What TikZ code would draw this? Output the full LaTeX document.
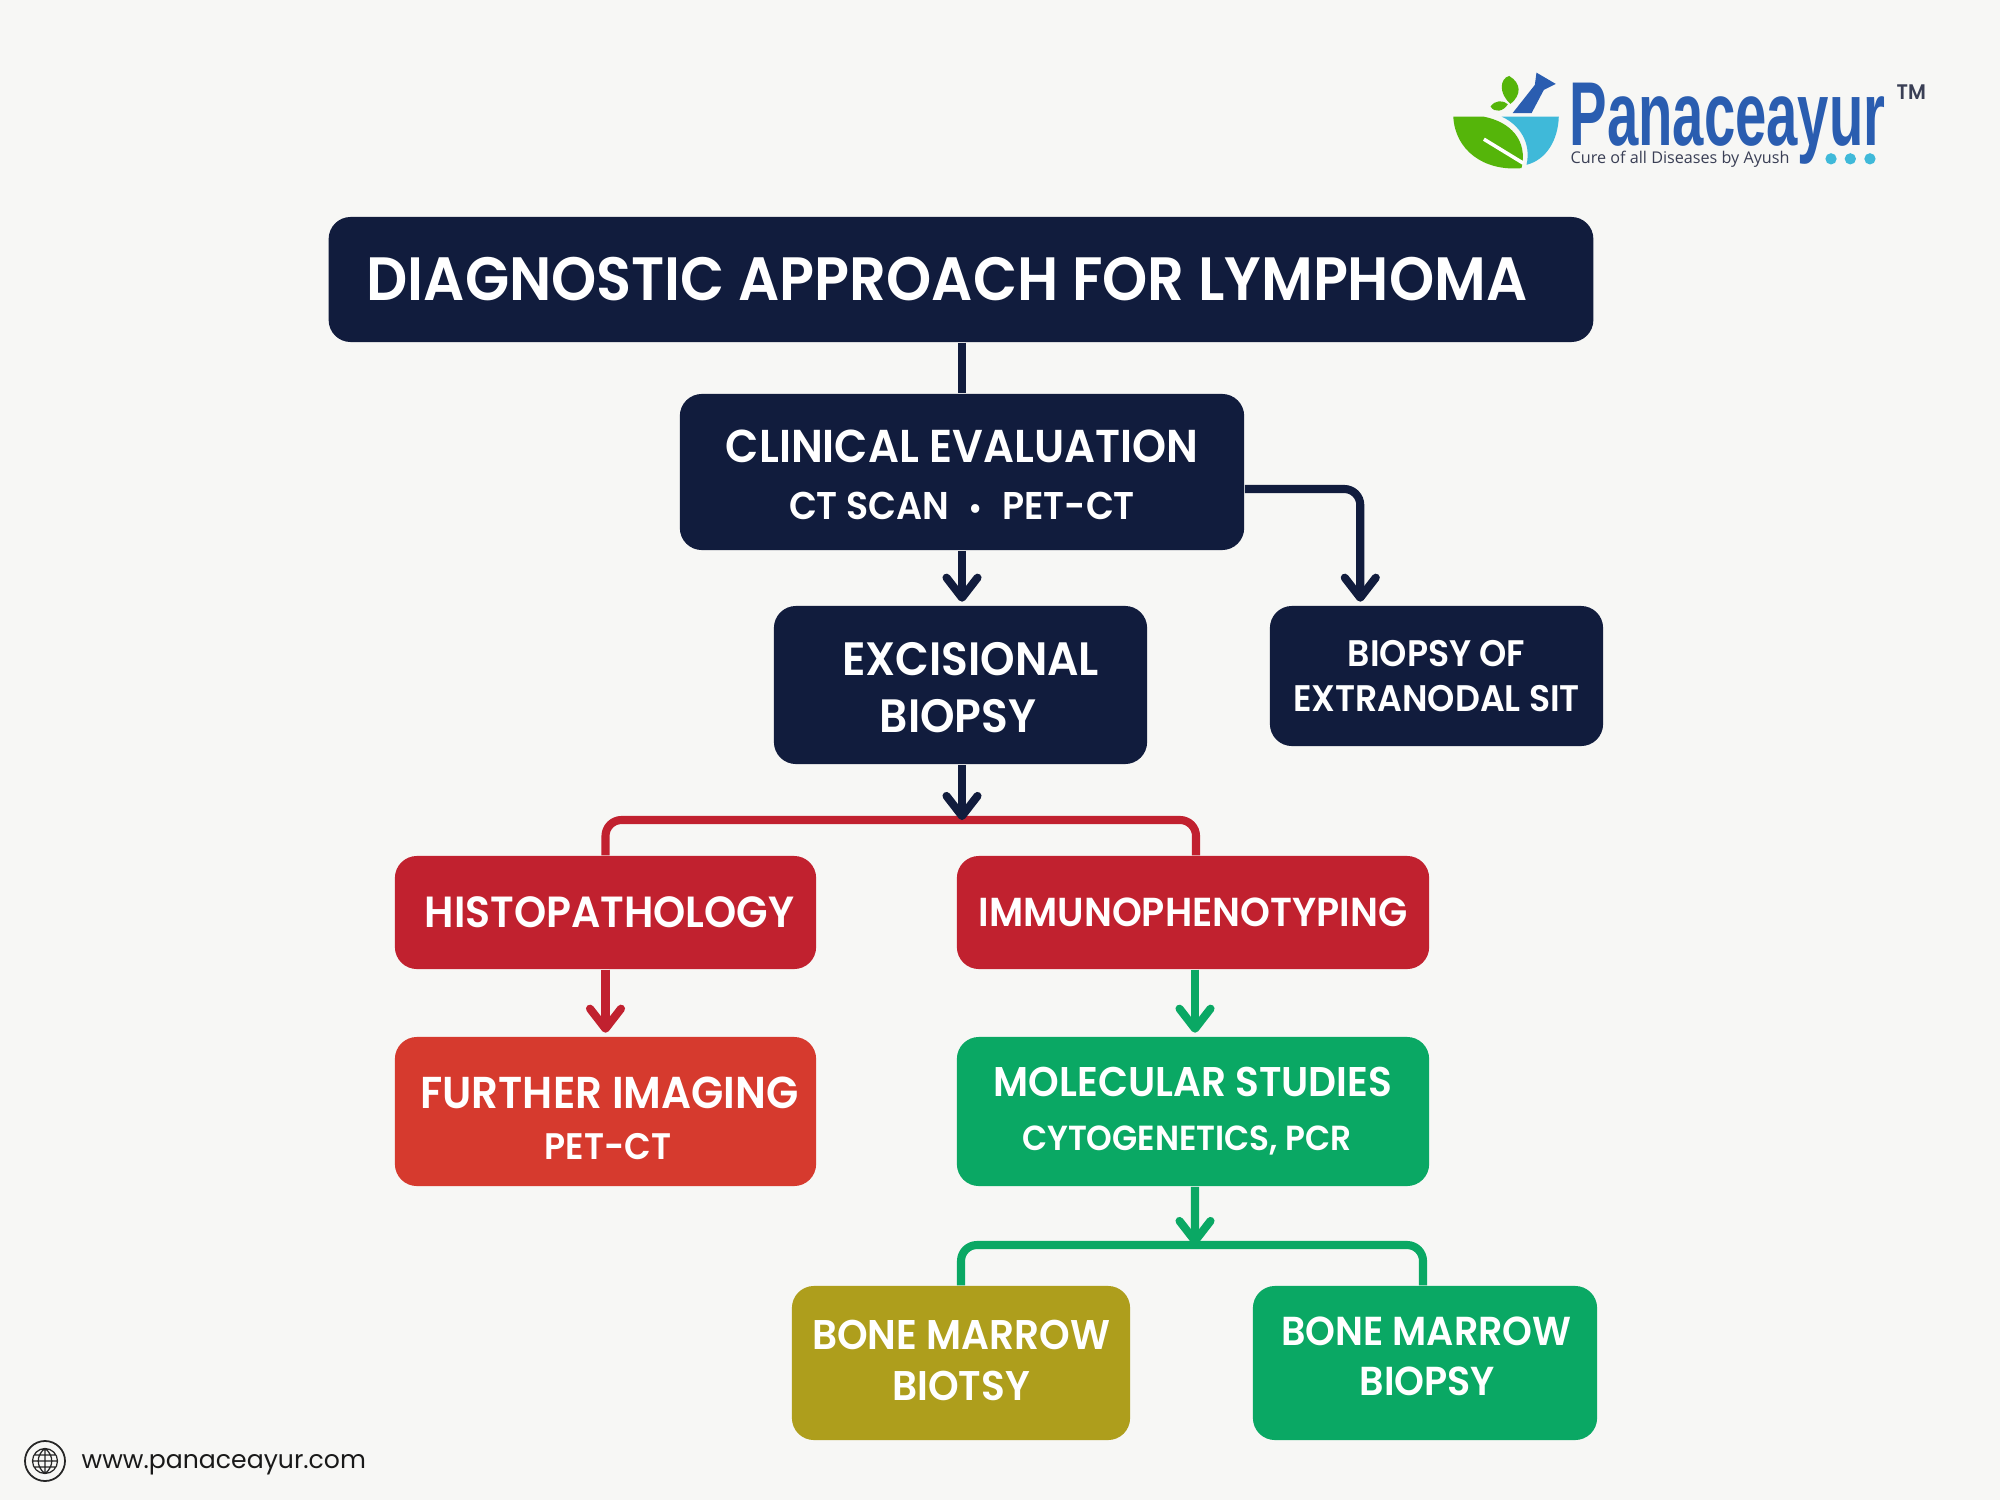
\documentclass[tikz,border=0pt]{standalone}
\usepackage{fontspec}
\setmainfont{Poppins}
\newfontfamily\boxfont[FakeStretch=0.94]{Poppins SemiBold}
\newfontfamily\logofont[FakeStretch=0.62]{Liberation Sans}
\newfontfamily\tagfont{Open Sans}
\usepackage{xcolor}
\usetikzlibrary{arrows.meta}
\definecolor{PageBg}{HTML}{F7F7F5}
\definecolor{NavyBox}{HTML}{111C3D}
\definecolor{RedBox}{HTML}{C1212F}
\definecolor{OrangeBox}{HTML}{D63A2E}
\definecolor{GreenBox}{HTML}{0AA864}
\definecolor{OliveBox}{HTML}{AE9E1C}
\definecolor{LogoBlue}{HTML}{2A5DB0}
\definecolor{LogoCyan}{HTML}{3FB9D9}
\definecolor{LogoGreen}{HTML}{55B50A}
\definecolor{LogoGrey}{HTML}{3A3F55}

\begin{document}
\begin{tikzpicture}[
  x=0.01cm,y=-0.01cm,
  flowbox/.style={rounded corners=2.2mm,text=white,align=center,inner sep=0pt},
  link/.style={line width=2.3pt,rounded corners=1.6mm},
  linktip/.style={-{Straight Barb[length=2mm,width=3.1mm,round,line width=2.3pt]}},
  ]
  \tikzset{%
    navybox/.style={flowbox,fill=NavyBox},
    redbox/.style={flowbox,fill=RedBox},
    greenbox/.style={flowbox,fill=GreenBox},
  }
  \useasboundingbox[fill=PageBg] (0,0) rectangle (2000,1500);
  %Nodes
  \node[navybox,minimum width=12.64cm,minimum height=1.25cm,font=\boxfont\fontsize{17.4}{21}\selectfont](title) at (961,279.5){\hspace*{-0.28cm}DIAGNOSTIC APPROACH FOR LYMPHOMA};
  \node[navybox,minimum width=5.64cm,minimum height=1.56cm,font=\boxfont\fontsize{13.1}{16}\selectfont](clinical) at (962,472){%
    \rule{0pt}{0.38cm}CLINICAL EVALUATION\\
    {\fontsize{11}{14}\selectfont CT SCAN\enspace{\fontsize{9}{9}\selectfont •}\enspace PET-CT}};
  \node[navybox,minimum width=3.73cm,minimum height=1.58cm,font=\boxfont\fontsize{13.3}{16.1}\selectfont](excisional) at (960.5,685){\rule{0pt}{0.38cm}\hspace*{0.2cm}EXCISIONAL\\\hspace*{-0.05cm}BIOPSY};
  \node[navybox,minimum width=3.33cm,minimum height=1.40cm,font=\boxfont\fontsize{10.5}{13}\selectfont](extranodal) at (1436.5,676){BIOPSY OF\\EXTRANODAL SIT};
  \node[redbox,minimum width=4.21cm,minimum height=1.13cm,font=\boxfont\fontsize{12.4}{16}\selectfont](histo) at (605.5,912.5){\hspace*{0.08cm}HISTOPATHOLOGY};
  \node[redbox,minimum width=4.72cm,minimum height=1.13cm,font=\boxfont\fontsize{11.5}{16}\selectfont](immuno) at (1193,912.5){IMMUNOPHENOTYPING};
  \node[flowbox,fill=OrangeBox,minimum width=4.21cm,minimum height=1.49cm,font=\boxfont\fontsize{12.7}{14.6}\selectfont](imaging) at (605.5,1111.5){%
    \rule{0pt}{0.45cm}\hspace*{0.08cm}FURTHER IMAGING\\
    {\fontsize{10.5}{14}\selectfont\hspace*{0.05cm}PET-CT}};
  \node[greenbox,minimum width=4.72cm,minimum height=1.49cm,font=\boxfont\fontsize{11.8}{15.3}\selectfont](molecular) at (1193,1111.5){%
    MOLECULAR STUDIES\\
    {\fontsize{9.9}{14}\selectfont\hspace*{-0.12cm}CYTOGENETICS, PCR}};
  \node[flowbox,fill=OliveBox,minimum width=3.38cm,minimum height=1.54cm,font=\boxfont\fontsize{11.8}{14.5}\selectfont](biotsy) at (961,1363){BONE MARROW\\BIOTSY\rule[-0.05cm]{0pt}{0pt}};
  \node[greenbox,minimum width=3.44cm,minimum height=1.54cm,font=\boxfont\fontsize{11.5}{14.2}\selectfont](biopsy) at (1425,1363){\hspace*{0.03cm}BONE MARROW\\\hspace*{0.05cm}BIOPSY\rule[-0.13cm]{0pt}{0pt}};
  %Lines
  \draw[link,color=NavyBox] (clinical.north |- title.south) -- (clinical.north);
  \draw[link,linktip,color=NavyBox,shorten >=1pt] (clinical.south) -- (excisional.north -| clinical.south);
  \draw[link,linktip,color=NavyBox,shorten >=1pt] ([yshift=-0.17cm]clinical.east) -| ([xshift=0.91cm]extranodal.north west);
  \draw[link,color=RedBox] (histo.north) |- (961,820) -| ([xshift=0.03cm]immuno.north);
  \draw[link,linktip,color=NavyBox] (excisional.south -| clinical.south) -- (962,820);
  \draw[link,linktip,color=RedBox,shorten >=1pt] (histo.south) -- (imaging.north);
  \draw[link,linktip,color=GreenBox,shorten >=1pt] ([xshift=0.02cm]immuno.south) -- ([xshift=0.02cm]molecular.north);
  \draw[link,color=GreenBox] (biotsy.north) |- (1192,1245) -| ([xshift=-0.02cm]biopsy.north);
  \draw[link,linktip,color=GreenBox] ([xshift=0.02cm]molecular.south) -- (1195,1245);
  %Logo
  \begin{scope}[shift={(1420,50)},x=0.00333cm,y=-0.00333cm]
    \fill[LogoGreen] (100,200) -- (190,200) .. controls (270,215) and (325,270) .. (305,355) .. controls (190,365) and (105,300) .. (100,200) -- cycle;
    \fill[LogoCyan] (245,200) -- (417,200) .. controls (415,270) and (380,330) .. (320,345) .. controls (335,280) and (300,225) .. (245,200) -- cycle;
    \draw[white,line width=1pt] (192,268) -- (310,340);
    \fill[LogoBlue] (278,190) -- (345,105) -- (350,68) -- (408,102) -- (372,120) -- (335,190) -- cycle;
    \fill[LogoGreen] (272,162) .. controls (235,130) and (240,85) .. (268,78) .. controls (305,100) and (305,135) .. (272,162) -- cycle;
    \fill[LogoGreen] (212,170) .. controls (225,150) and (250,150) .. (264,163) .. controls (250,185) and (225,190) .. (212,170) -- cycle;
    \foreach \dotx in {1235,1293,1352}
      \fill[LogoCyan] (\dotx,327) circle (17);
  \end{scope}
  \node[anchor=west,inner sep=0pt,text=LogoBlue,font=\logofont\bfseries\fontsize{25.8}{26}\selectfont](brand) at (1569,124){Panaceayur};
  \node[anchor=west,inner sep=0pt,text=LogoGrey,font=\boxfont\fontsize{6}{8}\selectfont](tm) at (1896,92){TM};
  \node[anchor=west,inner sep=0pt,text=LogoGrey,font=\tagfont\fontsize{4.6}{6}\selectfont](tagline) at (1570,159.5){Cure of all Diseases by Ayush};
  %Footer
  \node[circle,draw=black!85,line width=0.5pt,minimum size=0.4cm,inner sep=0pt](globe) at (45,1461){};
  \draw[black!85,line width=0.35pt] (45,1461) circle (12.5)
    (32.5,1461) -- (57.5,1461) (34,1455) -- (56,1455) (34,1467) -- (56,1467)
    (45,1448.5) -- (45,1473.5)
    (45,1448.5) .. controls (36,1455) and (36,1467) .. (45,1473.5)
    (45,1448.5) .. controls (54,1455) and (54,1467) .. (45,1473.5);
  \node[anchor=west,inner sep=0pt,text=black!90,font=\fontsize{7.15}{9}\selectfont](site) at (81,1465){www.panaceayur.com};
\end{tikzpicture}
\end{document}
